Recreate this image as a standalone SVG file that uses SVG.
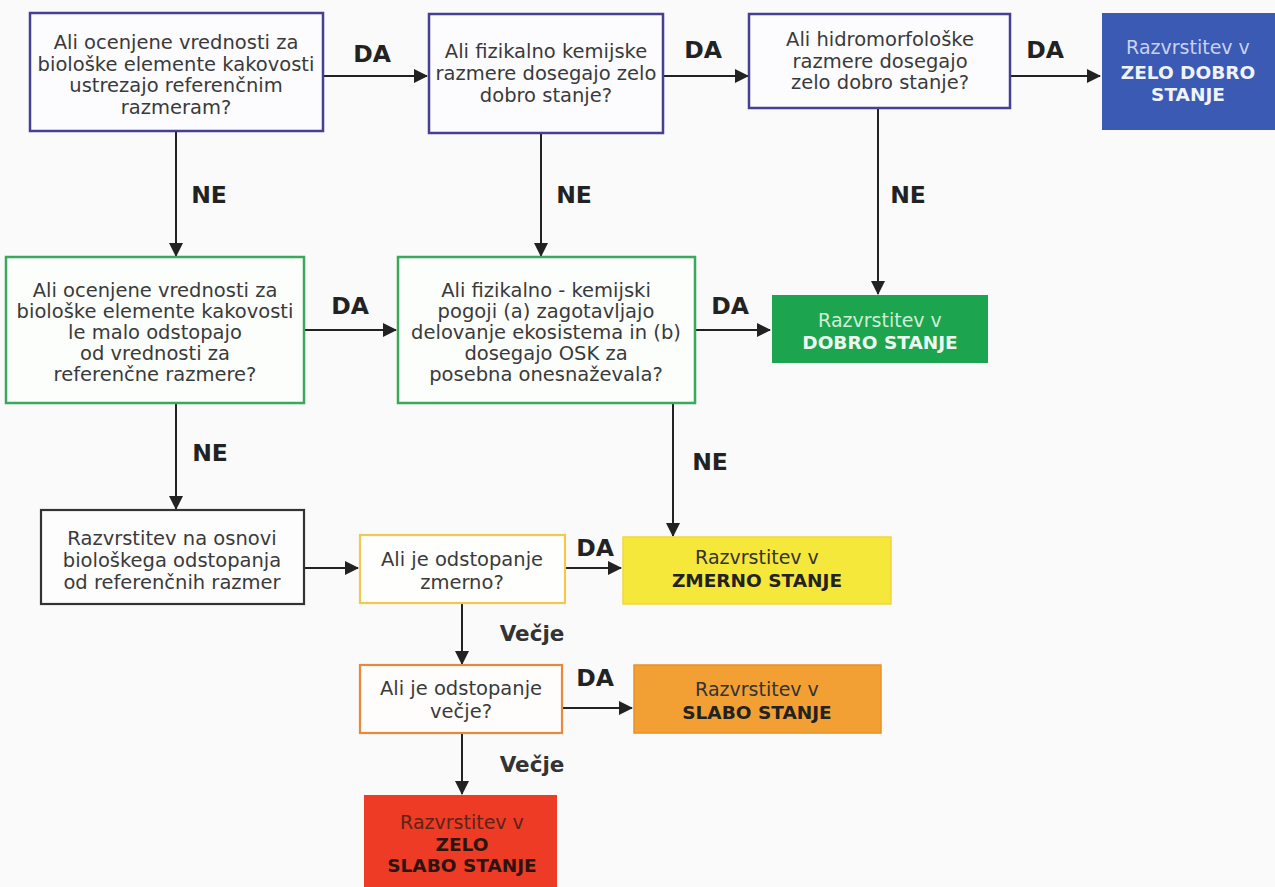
<svg xmlns="http://www.w3.org/2000/svg" width="1275" height="887" viewBox="0 0 1275 887">
<style>
.q{font-family:"DejaVu Sans","Liberation Sans",sans-serif;font-size:19.5px;fill:#3a3a3a;text-anchor:middle}
.lbl{font-family:"DejaVu Sans","Liberation Sans",sans-serif;font-size:23.5px;font-weight:bold;fill:#222;text-anchor:middle}
.lblv{font-family:"DejaVu Sans","Liberation Sans",sans-serif;font-size:21.5px;font-weight:bold;fill:#333;text-anchor:middle}
.r{font-family:"DejaVu Sans","Liberation Sans",sans-serif;font-size:19px;text-anchor:middle}
.rb{font-family:"DejaVu Sans","Liberation Sans",sans-serif;font-size:18.5px;font-weight:bold;text-anchor:middle}
.bl{fill:#fcfcfe;stroke:#463f92;stroke-width:2.5}
.gr{fill:#fcfefc;stroke:#3aa85a;stroke-width:2.5}
.bk{fill:#fdfdfd;stroke:#333;stroke-width:2.2}
.ye{fill:#fefefc;stroke:#f2c94c;stroke-width:2.2}
.or{fill:#fefdfc;stroke:#e8883a;stroke-width:2.2}
.c{stroke:#222;stroke-width:2;fill:none;marker-end:url(#ah)}
</style>
<defs>
<marker id="ah" markerUnits="userSpaceOnUse" markerWidth="14" markerHeight="14" viewBox="0 0 14 14" refX="13" refY="7" orient="auto">
<path d="M0,0 L14,7 L0,14 z" fill="#222"/>
</marker>
</defs>
<rect width="1275" height="887" fill="#fafafa"/>
<g id="connectors">
<path class="c" d="M323,76 H427"/>
<path class="c" d="M663,76 H748"/>
<path class="c" d="M1010,76 H1100"/>
<path class="c" d="M176,131 V256"/>
<path class="c" d="M541,133 V256"/>
<path class="c" d="M878,108 V294"/>
<path class="c" d="M304,330 H396"/>
<path class="c" d="M695,330 H770"/>
<path class="c" d="M176,403 V509"/>
<path class="c" d="M673,403 V536"/>
<path class="c" d="M304,568 H358"/>
<path class="c" d="M565,568 H621"/>
<path class="c" d="M462,603 V664"/>
<path class="c" d="M562,708 H632"/>
<path class="c" d="M462,733 V794"/>
<text class="lbl" x="372" y="62">DA</text>
<text class="lbl" x="703" y="58">DA</text>
<text class="lbl" x="1045" y="58">DA</text>
<text class="lbl" x="209" y="203">NE</text>
<text class="lbl" x="574" y="203">NE</text>
<text class="lbl" x="908" y="203">NE</text>
<text class="lbl" x="350" y="314">DA</text>
<text class="lbl" x="730" y="314">DA</text>
<text class="lbl" x="210" y="461">NE</text>
<text class="lbl" x="710" y="470">NE</text>
<text class="lbl" x="595" y="556">DA</text>
<text class="lbl" x="595" y="686">DA</text>
<text class="lblv" x="532" y="641">Večje</text>
<text class="lblv" x="532" y="772">Večje</text>
</g>
<g id="n1">
<rect class="bl" x="30" y="13" width="293" height="118"/>
<text class="q" x="176" y="49">Ali ocenjene vrednosti za</text>
<text class="q" x="176" y="71">biološke elemente kakovosti</text>
<text class="q" x="176" y="92">ustrezajo referenčnim</text>
<text class="q" x="176" y="114">razmeram?</text>
</g>
<g id="n2">
<rect class="bl" x="429" y="14" width="234" height="119"/>
<text class="q" x="546" y="58">Ali fizikalno kemijske</text>
<text class="q" x="546" y="80">razmere dosegajo zelo</text>
<text class="q" x="546" y="102">dobro stanje?</text>
</g>
<g id="n3">
<rect class="bl" x="749" y="14" width="261" height="94"/>
<text class="q" x="880" y="46">Ali hidromorfološke</text>
<text class="q" x="880" y="68">razmere dosegajo</text>
<text class="q" x="880" y="89">zelo dobro stanje?</text>
</g>
<g id="n4">
<rect x="1102" y="13" width="173" height="117" fill="#3b5ab3"/>
<text class="r" x="1188" y="54" fill="#c9d2ef">Razvrstitev v</text>
<text class="rb" x="1188" y="79" fill="#f0f3fb">ZELO DOBRO</text>
<text class="rb" x="1188" y="101" fill="#f0f3fb">STANJE</text>
</g>
<g id="n5">
<rect class="gr" x="6" y="257" width="298" height="146"/>
<text class="q" x="155" y="297">Ali ocenjene vrednosti za</text>
<text class="q" x="155" y="318">biološke elemente kakovosti</text>
<text class="q" x="155" y="339">le malo odstopajo</text>
<text class="q" x="155" y="360">od vrednosti za</text>
<text class="q" x="155" y="381">referenčne razmere?</text>
</g>
<g id="n6">
<rect class="gr" x="398" y="257" width="297" height="146"/>
<text class="q" x="546" y="297">Ali fizikalno - kemijski</text>
<text class="q" x="546" y="318">pogoji (a) zagotavljajo</text>
<text class="q" x="546" y="339">delovanje ekosistema in (b)</text>
<text class="q" x="546" y="360">dosegajo OSK za</text>
<text class="q" x="546" y="381">posebna onesnaževala?</text>
</g>
<g id="n7">
<rect x="772" y="295" width="216" height="68" fill="#1ca54e"/>
<text class="r" x="880" y="327" fill="#cfeed8">Razvrstitev v</text>
<text class="rb" x="880" y="349" fill="#eef8f0">DOBRO STANJE</text>
</g>
<g id="n8">
<rect class="bk" x="41" y="510" width="263" height="94"/>
<text class="q" x="172" y="545">Razvrstitev na osnovi</text>
<text class="q" x="172" y="567">biološkega odstopanja</text>
<text class="q" x="172" y="589">od referenčnih razmer</text>
</g>
<g id="n9">
<rect class="ye" x="360" y="535" width="205" height="68"/>
<text class="q" x="462" y="566">Ali je odstopanje</text>
<text class="q" x="462" y="589">zmerno?</text>
</g>
<g id="n10">
<rect x="623" y="537" width="268" height="67" fill="#f5e83a" stroke="#f0d640" stroke-width="1.5"/>
<text class="r" x="757" y="564" fill="#333">Razvrstitev v</text>
<text class="rb" x="757" y="587" fill="#222">ZMERNO STANJE</text>
</g>
<g id="n11">
<rect class="or" x="360" y="665" width="202" height="68"/>
<text class="q" x="461" y="695">Ali je odstopanje</text>
<text class="q" x="461" y="718">večje?</text>
</g>
<g id="n12">
<rect x="634" y="665" width="247" height="68" fill="#f2a033" stroke="#e8902a" stroke-width="1.5"/>
<text class="r" x="757" y="696" fill="#333">Razvrstitev v</text>
<text class="rb" x="757" y="719" fill="#222">SLABO STANJE</text>
</g>
<g id="n13">
<rect x="364" y="795" width="193" height="92" fill="#ed3b25"/>
<text class="r" x="462" y="829" fill="#5a2418">Razvrstitev v</text>
<text class="rb" x="462" y="851" fill="#2a1410">ZELO</text>
<text class="rb" x="462" y="872" fill="#2a1410">SLABO STANJE</text>
</g>
</svg>
